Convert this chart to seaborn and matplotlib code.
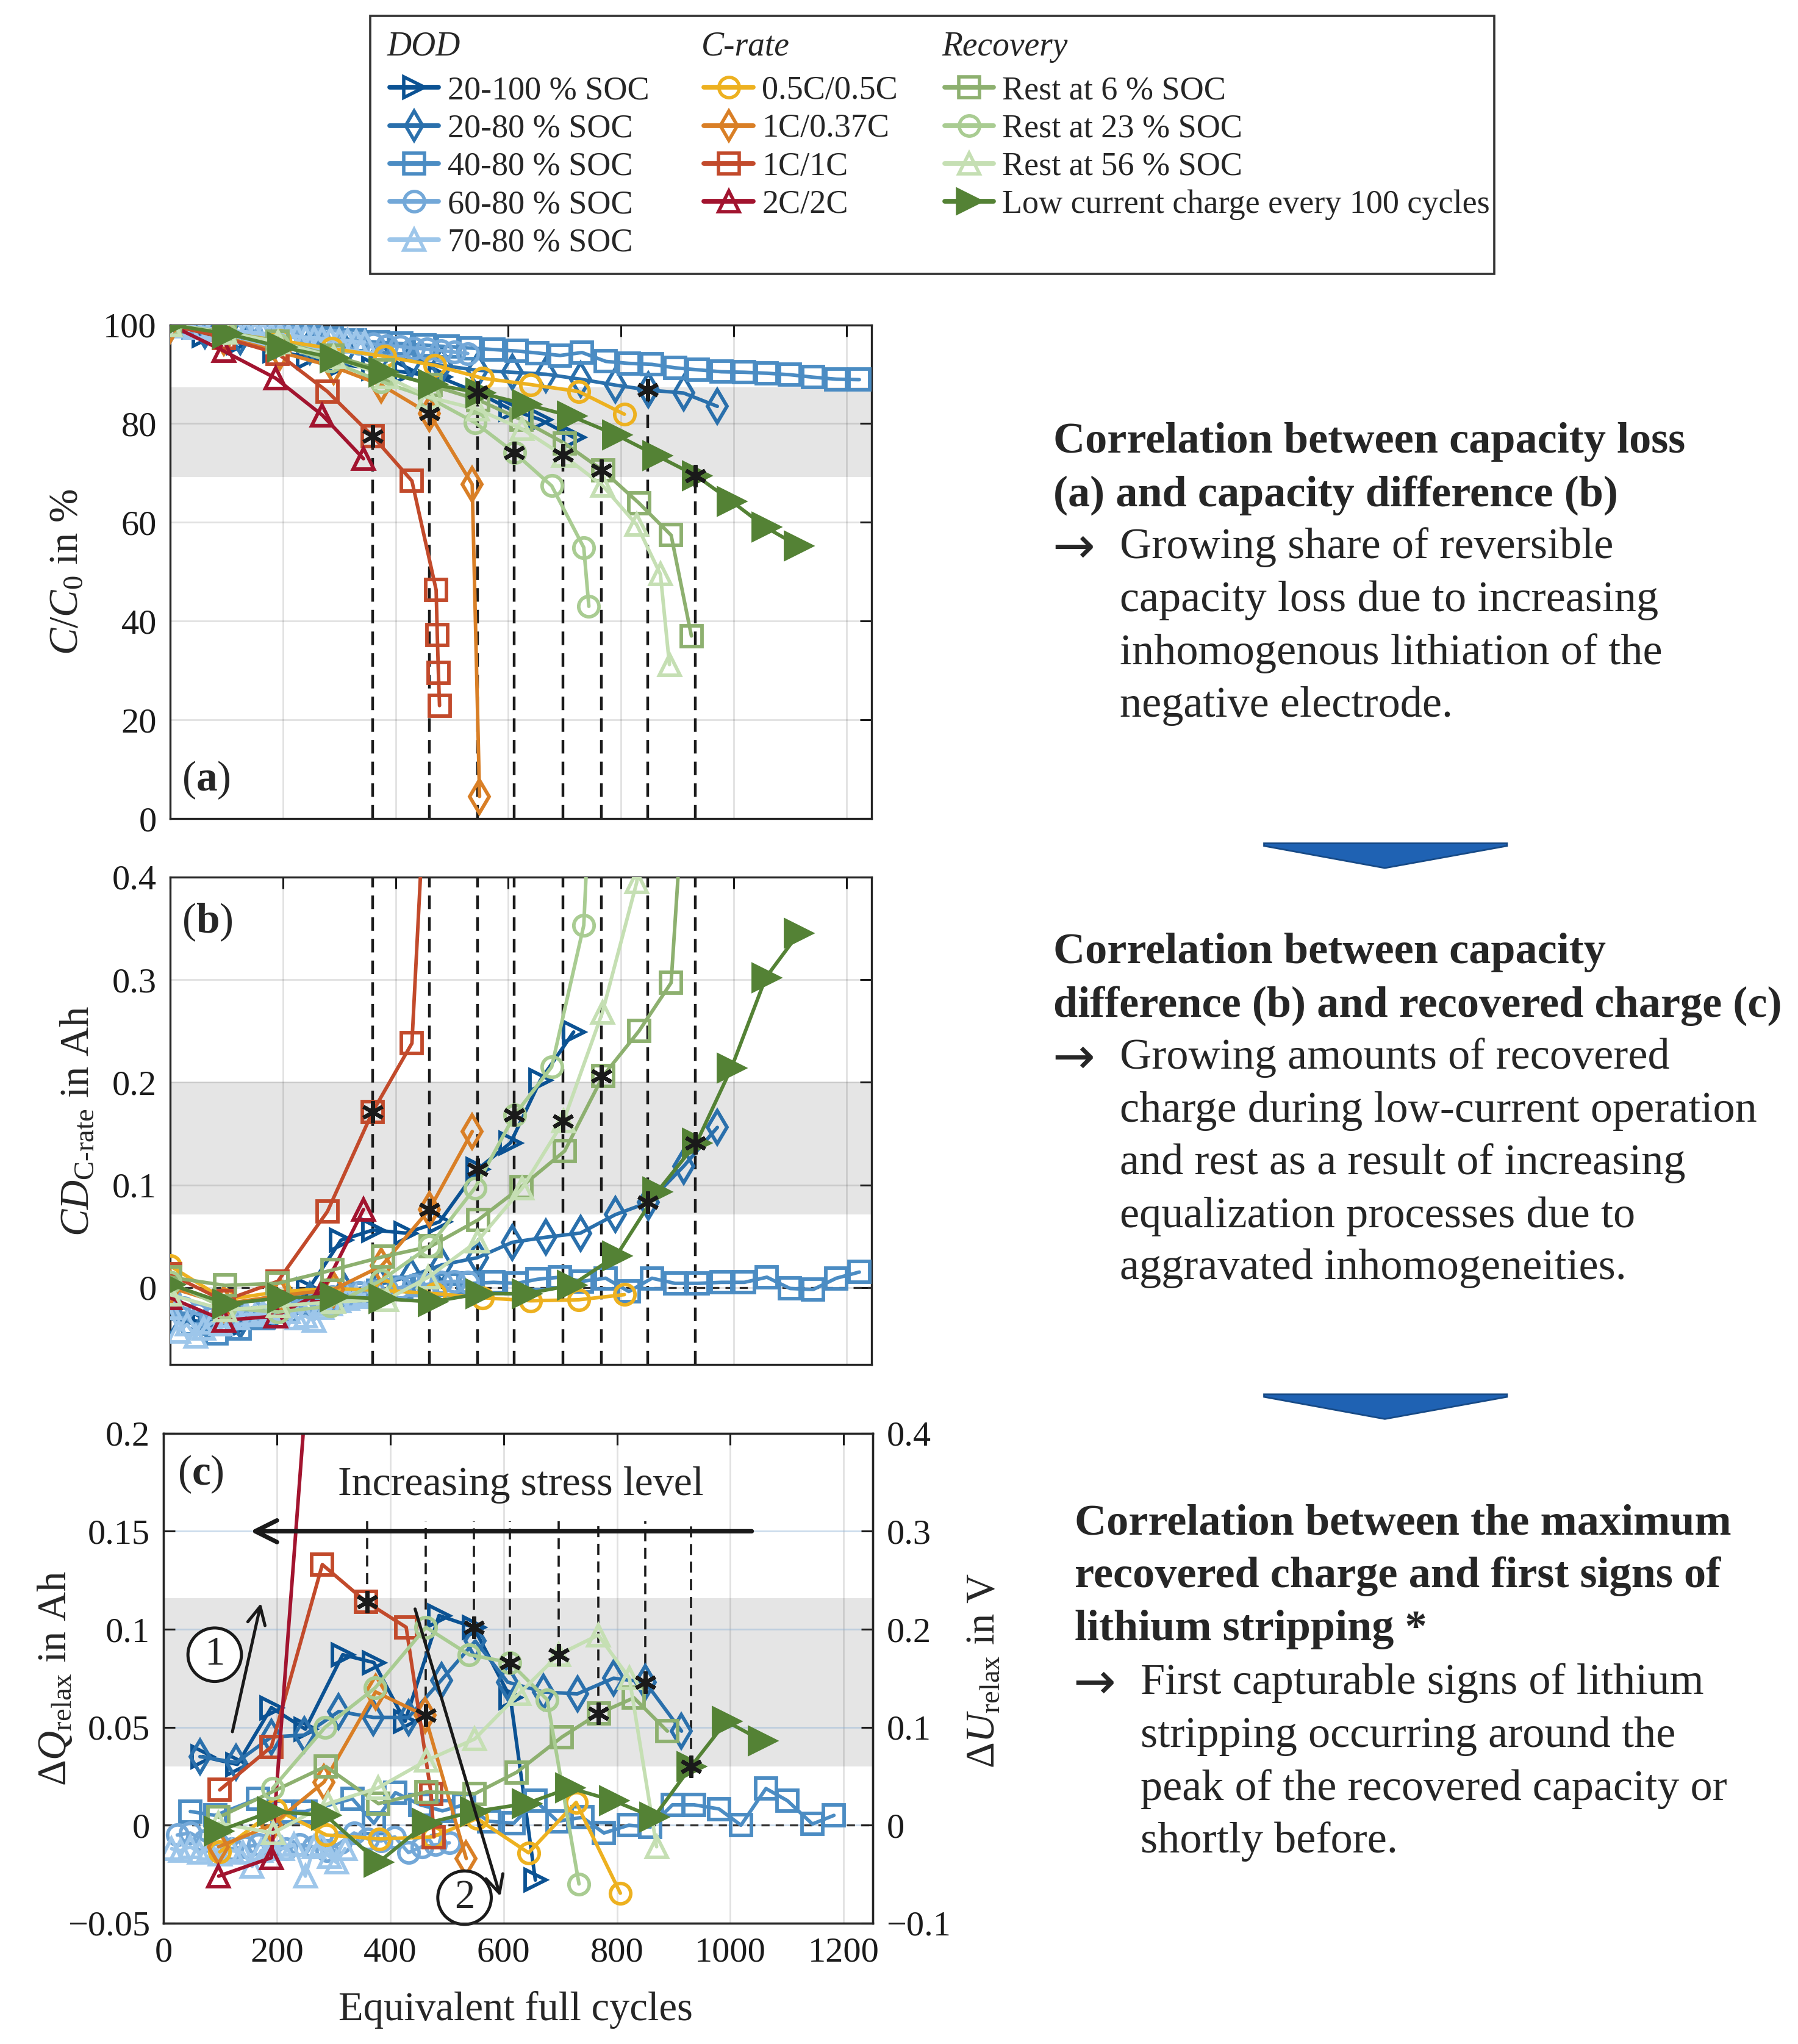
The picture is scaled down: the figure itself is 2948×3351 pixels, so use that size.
import matplotlib
matplotlib.use("Agg")
import matplotlib.pyplot as plt
import seaborn as sns
from matplotlib.lines import Line2D
from matplotlib.patches import Polygon, Rectangle
from matplotlib.ticker import FuncFormatter

sns.set_theme(style="white")
plt.rcParams["font.family"] = ["Liberation Serif", "DejaVu Serif"]
plt.rcParams["mathtext.fontset"] = "custom"
plt.rcParams["mathtext.rm"] = "Liberation Serif"
plt.rcParams["mathtext.it"] = "Liberation Serif:italic"
plt.rcParams["mathtext.bf"] = "Liberation Serif:bold"
plt.rcParams["axes.unicode_minus"] = True

# ---------------- data ----------------
# DOD 20-100 % SOC
d20_100_x = [0, 60, 120, 185, 245, 303, 360, 418, 478, 545, 604, 657, 716]
d20_100_a = [100, 97.8, 96.4, 94.8, 93.4, 92.0, 91.2, 90.4, 89.4, 86.3, 82.9, 80.8, 77.2]
d20_100_b = [-0.025, -0.035, -0.038, -0.028, -0.002, 0.046, 0.056, 0.053, 0.064, 0.115, 0.141, 0.202, 0.249]
d20_100_cx = [69, 130, 190, 250, 316, 371, 426, 486, 547, 612, 656]
d20_100_c = [0.035, 0.031, 0.060, 0.049, 0.087, 0.083, 0.053, 0.107, 0.101, 0.065, -0.028]
# DOD 20-80 % SOC
d20_80_x = [0, 62, 124, 186, 248, 310, 372, 427, 482, 545, 607, 667, 728, 790, 849, 911, 971]
d20_80_a = [100, 98.8, 97.6, 96.6, 95.6, 94.7, 93.8, 92.8, 91.8, 90.8, 90.4, 90.0, 89.0, 87.8, 86.8, 86.2, 83.5]
d20_80_b = [-0.03, -0.038, -0.032, -0.022, -0.012, -0.004, 0.003, 0.011, 0.022, 0.029, 0.044, 0.049, 0.053, 0.071, 0.083, 0.118, 0.156]
d20_80_cx = [64, 128, 190, 248, 309, 370, 432, 490, 550, 607, 670, 730, 794, 850, 914]
d20_80_c = [0.035, 0.032, 0.045, 0.046, 0.058, 0.055, 0.055, 0.074, 0.094, 0.073, 0.068, 0.067, 0.075, 0.073, 0.048]
# DOD 40-80 % SOC
d40_80_x = [0, 41, 82, 123, 164, 205, 246, 287, 328, 369, 410, 451, 492, 533, 574, 615, 652, 692, 731,
            773, 814, 855, 896, 936, 978, 1019, 1059, 1100, 1141, 1182, 1223]
d40_80_a = [100, 99.5, 99.0, 98.6, 98.2, 97.9, 97.5, 97.2, 96.8, 96.5, 96.2, 95.9, 95.6, 95.3, 95.0, 94.7,
            94.3, 93.8, 94.4, 92.6, 92.2, 92.0, 91.3, 90.9, 90.5, 90.4, 90.2, 89.9, 89.4, 89.0, 88.9]
d40_80_b = [-0.02, -0.035, -0.045, -0.04, -0.03, -0.022, -0.015, -0.01, -0.006, -0.003, 0.0, 0.002, 0.003,
            0.004, 0.005, 0.004, 0.008, 0.010, 0.006, 0.009, -0.004, 0.009, 0.004, 0.004, 0.005, 0.005,
            0.010, -0.001, -0.002, 0.009, 0.015]
d40_80_cx = [47, 91, 166, 210, 250, 333, 371, 409, 453, 492, 530, 574, 618, 656, 695, 739, 777, 821, 859,
             898, 936, 980, 1019, 1063, 1101, 1145, 1183]
d40_80_c = [0.007, 0.005, 0.0135, 0.007, 0.007, 0.0135, 0.001, 0.0166, 0.0104, 0.0073, 0.0104, 0.002,
            0.001, 0.0125, 0.002, 0.004, -0.004, 0.0, -0.001, 0.0104, 0.0104, 0.0083, 0.0, 0.0187, 0.0125,
            0.0006, 0.005]
# DOD 60-80 % SOC
d60_80_x = [0, 24, 48, 72, 96, 120, 144, 168, 192, 216, 240, 264, 288, 312, 336, 360, 384, 408, 432, 456,
            480, 504, 528]
d60_80_a = [100, 99.7, 99.4, 99.1, 98.8, 98.6, 98.3, 98.0, 97.8, 97.5, 97.3, 97.0, 96.8, 96.6, 96.3, 96.1,
            95.8, 95.6, 95.3, 95.1, 94.8, 94.5, 94.2]
d60_80_b = [-0.01, -0.02, -0.026, -0.03, -0.028, -0.026, -0.023, -0.02, -0.018, -0.015, -0.013, -0.011,
            -0.009, -0.007, -0.005, -0.004, -0.002, 0.0, 0.002, 0.003, 0.005, 0.006, 0.005]
d60_80_cx = [24, 47, 72, 96, 120, 144, 168, 192, 216, 240, 264, 288, 312, 336, 360, 384, 408, 432, 456,
             480, 504]
d60_80_c = [-0.005, -0.004, -0.008, -0.010, -0.012, -0.011, -0.010, -0.009, -0.012, -0.010, -0.011,
            -0.013, -0.009, -0.004, -0.007, -0.008, -0.006, -0.014, -0.011, -0.010, -0.009]
# DOD 70-80 % SOC
d70_80_x = [0, 15, 30, 45, 60, 75, 90, 105, 120, 135, 150, 165, 180, 195, 210, 225, 240, 255, 270, 285,
            300, 315, 330, 345]
d70_80_a = [100, 99.9, 99.7, 99.5, 99.4, 99.2, 99.0, 98.9, 98.7, 98.6, 98.4, 98.3, 98.1, 98.0, 97.8, 97.7,
            97.5, 97.4, 97.2, 97.1, 96.9, 96.8, 96.6, 96.5]
d70_80_b = [-0.02, -0.043, -0.036, -0.048, -0.04, -0.034, -0.036, -0.028, -0.03, -0.026, -0.027, -0.024,
            -0.022, -0.02, -0.024, -0.03, -0.028, -0.032, -0.02, -0.016, -0.013, -0.011, -0.009, -0.007]
d70_80_cx = [14, 30, 47, 63, 80, 100, 120, 140, 156, 172, 190, 209, 230, 250, 265, 278, 292, 305, 320]
d70_80_c = [-0.012, -0.013, -0.011, -0.014, -0.012, -0.015, -0.013, -0.014, -0.021, -0.013, -0.011,
            -0.012, -0.010, -0.026, -0.011, -0.010, -0.016, -0.019, -0.012]
# C-rate 0.5C/0.5C
c05_x = [0, 97, 195, 287, 381, 470, 554, 640, 725, 806]
c05_a = [100, 98.4, 96.8, 95.2, 93.6, 91.8, 89.2, 87.9, 86.5, 81.9]
c05_b = [0.021, -0.012, -0.004, -0.001, -0.003, -0.006, -0.010, -0.013, -0.012, -0.007]
c05_cx = [99, 198, 287, 381, 475, 553, 644, 728, 806]
c05_c = [-0.0136, 0.008, -0.005, -0.007, -0.006, 0.0034, -0.0141, 0.0116, -0.0347]
# C-rate 1C/0.37C
c1_037_ax = [0, 95, 195, 290, 375, 460, 536, 549]
c1_037_a = [100, 97.5, 94.5, 91.5, 87.8, 82.0, 67.7, 4.5]
c1_037_bx = [0, 95, 195, 290, 375, 460, 536]
c1_037_b = [0.0, -0.016, -0.008, -0.002, 0.021, 0.076, 0.152]
c1_037_cx = [97, 190, 283, 374, 461, 534]
c1_037_c = [-0.011, 0.0, 0.022, 0.068, 0.056, -0.017]
# C-rate 1C/1C
c1_1_ax = [0, 95, 191, 279, 359, 429, 472, 474, 476, 478]
c1_1_a = [100, 97.4, 94.2, 86.5, 77.5, 68.4, 46.3, 37.2, 29.5, 22.9]
c1_1_bx = [0, 95, 191, 279, 359, 429, 472]
c1_1_b = [0.013, -0.013, 0.006, 0.074, 0.171, 0.238, 0.7]
c1_1_cx = [99, 190, 280, 357, 428, 472, 477]
c1_1_c = [0.018, 0.040, 0.133, 0.114, 0.101, 0.016, -0.006]
# C-rate 2C/2C
c2_2_x = [0, 95, 187, 270, 343]
c2_2_a = [100, 94.7, 89.2, 81.7, 72.9]
c2_2_b = [-0.01, -0.032, -0.028, -0.004, 0.076]
c2_2_cx = [97, 190, 280]
c2_2_c = [-0.026, -0.0166, 0.33]
# Recovery: rest at 6 % SOC
r6_x = [0, 97, 191, 288, 378, 462, 547, 623, 700, 768, 832, 889, 925]
r6_a = [100, 98.6, 96.6, 93.8, 90.8, 87.8, 84.8, 80.8, 76.0, 70.5, 63.9, 57.4, 37.0]
r6_b = [0.010, 0.002, 0.004, 0.017, 0.030, 0.040, 0.066, 0.098, 0.133, 0.206, 0.250, 0.297, 0.6]
r6_cx = [97, 286, 379, 464, 549, 623, 703, 768, 830, 889]
r6_c = [0.004, 0.030, 0.011, 0.017, 0.016, 0.027, 0.045, 0.057, 0.065, 0.048]
# Recovery: rest at 23 % SOC
r23_x = [0, 97, 192, 285, 375, 460, 541, 611, 677, 734, 743]
r23_a = [100, 98.4, 96.0, 92.6, 88.5, 85.2, 80.2, 74.1, 67.4, 54.9, 43.0]
r23_b = [0.005, -0.020, -0.024, -0.018, 0.007, 0.040, 0.097, 0.168, 0.215, 0.353, 0.46]
r23_cx = [192, 285, 373, 463, 539, 611, 677, 733]
r23_c = [0.0187, 0.050, 0.070, 0.101, 0.087, 0.083, 0.064, -0.030]
# Recovery: rest at 56 % SOC
r56_x = [0, 97, 192, 290, 384, 458, 545, 625, 698, 767, 828, 870, 886]
r56_a = [100, 98.5, 96.5, 93.5, 89.5, 85.4, 82.9, 78.9, 73.5, 67.5, 59.5, 49.5, 31.2]
r56_b = [-0.007, -0.022, -0.018, -0.014, -0.012, 0.010, 0.045, 0.097, 0.162, 0.268, 0.395, 0.8, 1.2]
r56_cx = [97, 193, 290, 378, 464, 549, 627, 697, 767, 822, 870]
r56_c = [0.001, -0.004, 0.011, 0.019, 0.033, 0.044, 0.067, 0.087, 0.097, 0.075, -0.011]
# Recovery: low current charge every 100 cycles
lcc_x = [0, 101, 198, 291, 378, 465, 550, 632, 712, 792, 864, 934, 996, 1057, 1115]
lcc_a = [100, 98.2, 95.5, 93.3, 90.4, 88.0, 86.2, 83.9, 81.5, 77.7, 73.5, 69.4, 64.3, 59.0, 55.2]
lcc_b = [0.003, -0.016, -0.010, -0.009, -0.011, -0.014, -0.006, -0.006, 0.002, 0.031, 0.093, 0.141,
         0.214, 0.302, 0.345]
lcc_cx = [97, 190, 286, 379, 464, 549, 640, 717, 794, 865, 931, 993, 1057]
lcc_c = [-0.003, 0.007, 0.005, -0.019, 0.001, 0.007, 0.011, 0.019, 0.0125, 0.004, 0.030, 0.053, 0.043]

# first signs of lithium stripping (*)
star_x_ab = [359, 460, 545, 610, 697, 765, 848, 932]
star_a = [77.5, 82.0, 86.3, 74.1, 73.6, 70.5, 86.8, 69.4]
star_b = [0.171, 0.076, 0.115, 0.168, 0.162, 0.206, 0.083, 0.141]
star_x_c = [359, 462, 547, 611, 697, 767, 850, 931]
star_c = [0.114, 0.056, 0.101, 0.083, 0.087, 0.057, 0.073, 0.030]

# highlighted bands
band_a = (69.2, 87.4)
band_b = (0.071, 0.200)
band_c = (0.030, 0.116)

x_ticks = [0, 200, 400, 600, 800, 1000, 1200]
a_ticks = [0, 20, 40, 60, 80, 100]
b_ticks = [0, 0.1, 0.2, 0.3, 0.4]
c_ticks = [-0.05, 0, 0.05, 0.1, 0.15, 0.2]
c2_ticks = [-0.1, 0, 0.1, 0.2, 0.3, 0.4]

# ---------------- styles ----------------
series = [
    ("20-100 % SOC", "#0B5293", ">", False, (d20_100_x, d20_100_a), (d20_100_x, d20_100_b), (d20_100_cx, d20_100_c)),
    ("20-80 % SOC", "#2A70AC", "d", False, (d20_80_x, d20_80_a), (d20_80_x, d20_80_b), (d20_80_cx, d20_80_c)),
    ("40-80 % SOC", "#4B8CC3", "s", False, (d40_80_x, d40_80_a), (d40_80_x, d40_80_b), (d40_80_cx, d40_80_c)),
    ("60-80 % SOC", "#73A8D8", "o", False, (d60_80_x, d60_80_a), (d60_80_x, d60_80_b), (d60_80_cx, d60_80_c)),
    ("70-80 % SOC", "#9DC6EA", "^", False, (d70_80_x, d70_80_a), (d70_80_x, d70_80_b), (d70_80_cx, d70_80_c)),
    ("0.5C/0.5C", "#EDB120", "o", False, (c05_x, c05_a), (c05_x, c05_b), (c05_cx, c05_c)),
    ("1C/0.37C", "#D97F26", "d", False, (c1_037_ax, c1_037_a), (c1_037_bx, c1_037_b), (c1_037_cx, c1_037_c)),
    ("1C/1C", "#C24A2B", "s", False, (c1_1_ax, c1_1_a), (c1_1_bx, c1_1_b), (c1_1_cx, c1_1_c)),
    ("2C/2C", "#A2142F", "^", False, (c2_2_x, c2_2_a), (c2_2_x, c2_2_b), (c2_2_cx, c2_2_c)),
    ("Rest at 6 % SOC", "#8DB06F", "s", False, (r6_x, r6_a), (r6_x, r6_b), (r6_cx, r6_c)),
    ("Rest at 23 % SOC", "#A9CC92", "o", False, (r23_x, r23_a), (r23_x, r23_b), (r23_cx, r23_c)),
    ("Rest at 56 % SOC", "#C5DFB3", "^", False, (r56_x, r56_a), (r56_x, r56_b), (r56_cx, r56_c)),
    ("Low current charge every 100 cycles", "#548235", ">", True, (lcc_x, lcc_a), (lcc_x, lcc_b), (lcc_cx, lcc_c)),
]

W, H = 1384.0, 1573.0
def fx(px):
    return px / W
def fy(py):
    return 1 - py / H

fig = plt.figure(figsize=(2948 / 200, 3351 / 200), dpi=200)
ax_a = fig.add_axes([fx(131), fy(630), 540 / W, 380 / H])
ax_b = fig.add_axes([fx(131), fy(1050), 540 / W, 375 / H])
ax_c = fig.add_axes([fx(126), fy(1480), 546 / W, 377 / H])

TICK_FS = 21
LAB_FS = 24
fmt = FuncFormatter(lambda v, p: ("%g" % v).replace("-", "\u2212"))


def msize(marker, filled):
    if filled:
        return 15
    if marker == "d":
        return 14
    return 12


def draw(ax, x, y, color, marker, filled):
    sns.lineplot(x=x, y=y, ax=ax, color=color, marker=marker, markersize=msize(marker, filled),
                 markerfacecolor=color if filled else "none", markeredgecolor=color,
                 markeredgewidth=2.1, linewidth=2.1, sort=False, estimator=None,
                 errorbar=None, zorder=3)


def style_axes(ax, grid_y_color="k", grid_y_alpha=0.13):
    for s in ax.spines.values():
        s.set_color("#262626")
        s.set_linewidth(1.2)
    ax.set_axisbelow(True)
    ax.grid(True, axis="x", color="k", alpha=0.13, lw=1.0)
    ax.grid(True, axis="y", color=grid_y_color, alpha=grid_y_alpha, lw=1.0)
    ax.tick_params(direction="in", length=7, width=1.1, top=True, labelsize=TICK_FS,
                   colors="#1a1a1a", pad=8)


for lab, col, mk, filled, (xa, ya), (xb, yb), (xc, yc) in series:
    draw(ax_a, xa, ya, col, mk, filled)
    draw(ax_b, xb, yb, col, mk, filled)
    draw(ax_c, xc, yc, col, mk, filled)

star_kw = dict(linestyle="none", marker=(6, 2, 0), markersize=13, markeredgewidth=2.3,
               color="k", zorder=6)
dash_kw = dict(colors="k", linestyles=(0, (5, 3)), linewidth=1.6, zorder=2.5)

# panel (a)
ax_a.axhspan(*band_a, color="#e5e5e5", zorder=0, lw=0)
ax_a.vlines(star_x_ab, 0, star_a, **dash_kw)
ax_a.plot(star_x_ab, star_a, **star_kw)
ax_a.set_xlim(0, 1245)
ax_a.set_ylim(0, 100)
ax_a.set_xticks(x_ticks)
ax_a.set_yticks(a_ticks)
style_axes(ax_a)
ax_a.tick_params(right=True, labelbottom=False)
ax_a.yaxis.set_major_formatter(fmt)
ax_a.set_ylabel(r"$\mathit{C/C}_{\mathrm{0}}$ in %", fontsize=LAB_FS)
ax_a.yaxis.set_label_coords(-0.12, 0.5)
ax_a.text(64, 7.8, r"($\mathbf{a}$)", fontsize=25, va="center", ha="center")

# panel (b)
ax_b.axhspan(*band_b, color="#e5e5e5", zorder=0, lw=0)
ax_b.axhline(0, color="#333333", lw=1.2, ls=(0, (4, 3)), zorder=2)
ax_b.vlines(star_x_ab, -0.075, 0.4, **dash_kw)
ax_b.plot(star_x_ab, star_b, **star_kw)
ax_b.set_xlim(0, 1245)
ax_b.set_ylim(-0.075, 0.4)
ax_b.set_xticks(x_ticks)
ax_b.set_yticks(b_ticks)
style_axes(ax_b)
ax_b.tick_params(right=True, labelbottom=False)
ax_b.yaxis.set_major_formatter(fmt)
ax_b.set_ylabel(r"$\mathit{CD}_{\mathrm{C\text{-}rate}}$ in Ah", fontsize=LAB_FS)
ax_b.yaxis.set_label_coords(-0.105, 0.5)
ax_b.text(66, 0.356, r"($\mathbf{b}$)", fontsize=25, va="center", ha="center")

# panel (c)
ax_c.axhspan(*band_c, color="#e5e5e5", zorder=0, lw=0)
ax_c.axhline(0, color="#333333", lw=1.2, ls=(0, (4, 3)), zorder=2)
ax_c.vlines(star_x_c, star_c, 0.155, colors="k", linestyles=(0, (5, 3)), linewidth=1.3, zorder=2.5)
ax_c.plot(star_x_c, star_c, **star_kw)
ax_c.set_xlim(0, 1252)
ax_c.set_ylim(-0.05, 0.2)
ax_c.set_xticks(x_ticks)
ax_c.set_yticks(c_ticks)
style_axes(ax_c, grid_y_color="#8fb3d6", grid_y_alpha=0.45)
ax_c.tick_params(right=False)
ax_c.yaxis.set_major_formatter(fmt)
ax_c.set_ylabel(r"$\Delta\mathit{Q}_{\mathrm{relax}}$ in Ah", fontsize=LAB_FS)
ax_c.yaxis.set_label_coords(-0.126, 0.5)
ax_c.set_xlabel("Equivalent full cycles", fontsize=LAB_FS)
ax_c.xaxis.set_label_coords(0.496, -0.138)
ax_c.text(65, 0.179, r"($\mathbf{c}$)", fontsize=25, va="center", ha="center")
ax_c.text(630, 0.1735, "Increasing stress level", fontsize=24.5, va="center", ha="center")
ax_c.annotate("", xy=(147, 0.15), xytext=(1044, 0.15),
              arrowprops=dict(arrowstyle="->", lw=2.6, color="k", mutation_scale=32), zorder=7)
ax_c.annotate("", xy=(173, 0.115), xytext=(120, 0.046),
              arrowprops=dict(arrowstyle="->", lw=1.8, color="k", mutation_scale=26), zorder=7)
ax_c.annotate("", xy=(596, -0.038), xytext=(442, 0.112),
              arrowprops=dict(arrowstyle="->", lw=1.8, color="k", mutation_scale=26), zorder=7)
circ = dict(boxstyle="circle,pad=0.2", fc="white", ec="k", lw=1.8)
ax_c.text(90, 0.087, "1", fontsize=LAB_FS, ha="center", va="center", bbox=circ, zorder=8)
ax_c.text(531, -0.037, "2", fontsize=LAB_FS, ha="center", va="center", bbox=circ, zorder=8)

ax_c2 = ax_c.twinx()
ax_c2.set_ylim(-0.1, 0.4)
ax_c2.set_yticks(c2_ticks)
ax_c2.yaxis.set_major_formatter(fmt)
ax_c2.tick_params(direction="in", length=7, width=1.1, labelsize=TICK_FS, colors="#1a1a1a", pad=8)
ax_c2.grid(False)
for s in ax_c2.spines.values():
    s.set_color("#262626")
    s.set_linewidth(1.2)
ax_c2.set_ylabel(r"$\Delta\mathit{U}_{\mathrm{relax}}$ in V", fontsize=LAB_FS)
ax_c2.yaxis.set_label_coords(1.13, 0.515)

# ---------------- legend ----------------
groups = [("DOD", series[0:5], 298, 300), ("C-rate", series[5:9], 540, 542),
          ("Recovery", series[9:13], 725, 727)]
for title, items, xhead, xleft in groups:
    handles = [Line2D([], [], color=c, marker=m, markersize=12 if not f else 14,
                      markerfacecolor=c if f else "none", markeredgecolor=c,
                      markeredgewidth=2.0, lw=2.8) for (_, c, m, f, *_r) in items]
    labels = [lab for (lab, *_r) in items]
    fig.legend(handles=handles, labels=labels, loc="upper left",
               bbox_to_anchor=(fx(xleft), fy(58)), frameon=False,
               fontsize=19.5, handlelength=1.48, handletextpad=0.27, labelspacing=0.22,
               borderpad=0, borderaxespad=0)
    fig.text(fx(xhead), fy(36), title, fontsize=20, style="italic", va="center", ha="left")
fig.patches.append(Rectangle((fx(285), fy(211)), (1150 - 285) / W, (211 - 12) / H,
                             transform=fig.transFigure, fill=False, ec="#333333", lw=1.3,
                             zorder=10))

# ---------------- right-hand text ----------------
TXT_FS = 26
blocks = [
    (811, 862, [340, 381], ["Correlation between capacity loss", "(a) and capacity difference (b)"],
     [421, 462, 503, 543],
     ["Growing share of reversible", "capacity loss due to increasing",
      "inhomogenous lithiation of the", "negative electrode."]),
    (811, 862, [733, 774], ["Correlation between capacity", "difference (b) and recovered charge (c)"],
     [814, 855, 895, 936, 976],
     ["Growing amounts of recovered", "charge during low-current operation",
      "and rest as a result of increasing", "equalization processes due to",
      "aggravated inhomogeneities."]),
    (827, 878, [1173, 1213, 1254],
     ["Correlation between the maximum", "recovered charge and first signs of",
      "lithium stripping *"],
     [1295, 1336, 1377, 1417],
     ["First capturable signs of lithium", "stripping occurring around the",
      "peak of the recovered capacity or", "shortly before."]),
]
for xh, xb, yhs, heads, ybs, bodies in blocks:
    for yy, t in zip(yhs, heads):
        fig.text(fx(xh), fy(yy), t, fontsize=TXT_FS, fontweight="bold", va="center", ha="left")
    fig.text(fx(xh - 1), fy(ybs[0] + 1), "\u2192", fontsize=30, va="center", ha="left",
             family=["DejaVu Sans"])
    for yy, t in zip(ybs, bodies):
        fig.text(fx(xb), fy(yy), t, fontsize=TXT_FS, va="center", ha="left")

# blue down-pointing chevrons
for ytop, yv in [(649, 668), (1073, 1092)]:
    x0, x1, xc = fx(973), fx(1160), fx(1066)
    poly = Polygon([(x0, fy(ytop)), (x1, fy(ytop)), (x1, fy(ytop + 2)), (xc, fy(yv)), (x0, fy(ytop + 2))],
                   closed=True, transform=fig.transFigure, fc="#1F62B3", ec="#174a86", lw=1.0)
    fig.patches.append(poly)

fig.savefig("out.png", dpi=200)
